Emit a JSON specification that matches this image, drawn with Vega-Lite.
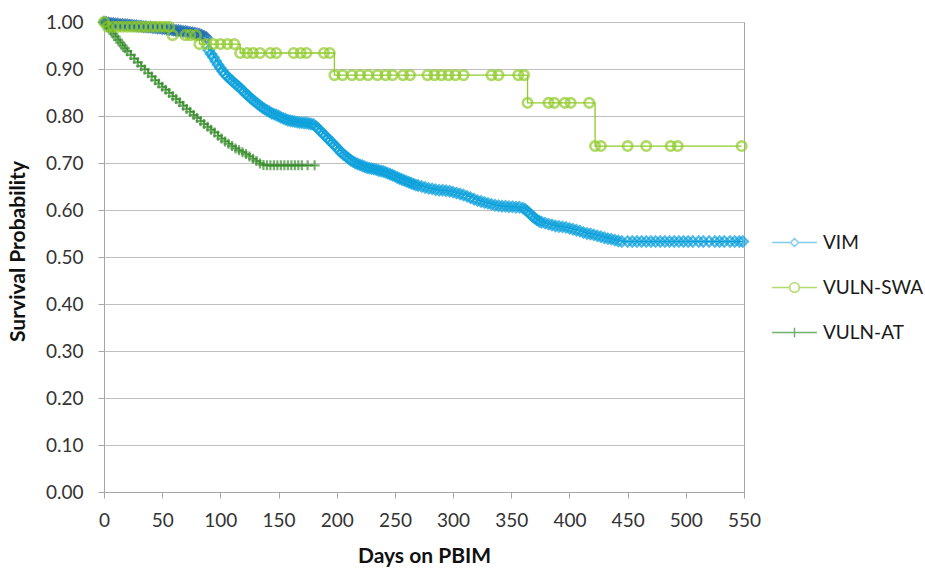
{
  "$schema": "https://vega.github.io/schema/vega-lite/v6.json",
  "width": 640,
  "height": 470,
  "autosize": {"type": "none"},
  "padding": {"left": 104, "top": 22, "right": 181, "bottom": 76},
  "background": "white",
  "config": {
    "font": "Lato",
    "view": {"stroke": "#A6A6A6", "strokeWidth": 1},
    "axis": {
      "labelFont": "Lato",
      "labelFontSize": 19,
      "labelColor": "#333333",
      "titleFont": "Lato",
      "titleFontSize": 21,
      "titleFontWeight": "bold",
      "titleColor": "#111111",
      "domainColor": "#A6A6A6",
      "tickColor": "#A6A6A6",
      "tickSize": 6,
      "gridColor": "#BFBFBF",
      "gridWidth": 1
    },
    "legend": {
      "orient": "none",
      "direction": "vertical",
      "legendX": 681,
      "legendY": 211,
      "labelFont": "Lato",
      "labelFontSize": 19,
      "labelColor": "#1A1A1A",
      "symbolSize": 64,
      "symbolStrokeWidth": 1.5,
      "labelOffset": 19,
      "rowPadding": 25
    }
  },
  "data": {
    "values": [
      {"series":"VIM","day":0,"p":1.000},{"series":"VIM","day":2,"p":0.999},{"series":"VIM","day":4,"p":0.998},{"series":"VIM","day":6,"p":0.997},{"series":"VIM","day":8,"p":0.997},{"series":"VIM","day":10,"p":0.996},{"series":"VIM","day":12,"p":0.996},{"series":"VIM","day":14,"p":0.995},{"series":"VIM","day":16,"p":0.995},{"series":"VIM","day":18,"p":0.994},{"series":"VIM","day":20,"p":0.994},{"series":"VIM","day":22,"p":0.993},{"series":"VIM","day":24,"p":0.993},{"series":"VIM","day":26,"p":0.992},{"series":"VIM","day":28,"p":0.992},{"series":"VIM","day":30,"p":0.991},{"series":"VIM","day":32,"p":0.991},{"series":"VIM","day":34,"p":0.990},{"series":"VIM","day":36,"p":0.990},{"series":"VIM","day":38,"p":0.989},{"series":"VIM","day":40,"p":0.989},{"series":"VIM","day":42,"p":0.988},{"series":"VIM","day":44,"p":0.988},{"series":"VIM","day":46,"p":0.987},{"series":"VIM","day":48,"p":0.987},{"series":"VIM","day":50,"p":0.986},{"series":"VIM","day":52,"p":0.986},{"series":"VIM","day":54,"p":0.985},{"series":"VIM","day":56,"p":0.984},{"series":"VIM","day":58,"p":0.984},{"series":"VIM","day":60,"p":0.983},{"series":"VIM","day":62,"p":0.982},{"series":"VIM","day":64,"p":0.982},{"series":"VIM","day":66,"p":0.981},{"series":"VIM","day":68,"p":0.980},{"series":"VIM","day":70,"p":0.980},{"series":"VIM","day":72,"p":0.979},{"series":"VIM","day":74,"p":0.978},{"series":"VIM","day":76,"p":0.977},{"series":"VIM","day":78,"p":0.976},{"series":"VIM","day":80,"p":0.975},{"series":"VIM","day":82,"p":0.974},{"series":"VIM","day":84,"p":0.972},{"series":"VIM","day":86,"p":0.970},{"series":"VIM","day":88,"p":0.967},
      {"series":"VIM","day":90,"p":0.940},{"series":"VIM","day":92,"p":0.932},{"series":"VIM","day":94,"p":0.925},{"series":"VIM","day":96,"p":0.917},{"series":"VIM","day":98,"p":0.909},{"series":"VIM","day":100,"p":0.902},{"series":"VIM","day":102,"p":0.895},{"series":"VIM","day":104,"p":0.889},{"series":"VIM","day":106,"p":0.884},{"series":"VIM","day":108,"p":0.879},{"series":"VIM","day":110,"p":0.875},{"series":"VIM","day":112,"p":0.870},{"series":"VIM","day":114,"p":0.866},{"series":"VIM","day":116,"p":0.862},{"series":"VIM","day":118,"p":0.857},{"series":"VIM","day":120,"p":0.852},{"series":"VIM","day":122,"p":0.847},{"series":"VIM","day":124,"p":0.843},{"series":"VIM","day":126,"p":0.838},{"series":"VIM","day":128,"p":0.834},{"series":"VIM","day":130,"p":0.830},{"series":"VIM","day":132,"p":0.826},{"series":"VIM","day":134,"p":0.822},{"series":"VIM","day":136,"p":0.818},{"series":"VIM","day":138,"p":0.815},{"series":"VIM","day":140,"p":0.812},{"series":"VIM","day":142,"p":0.809},{"series":"VIM","day":144,"p":0.806},{"series":"VIM","day":146,"p":0.804},{"series":"VIM","day":148,"p":0.802},{"series":"VIM","day":150,"p":0.800},{"series":"VIM","day":152,"p":0.797},{"series":"VIM","day":154,"p":0.795},{"series":"VIM","day":156,"p":0.793},{"series":"VIM","day":158,"p":0.791},{"series":"VIM","day":160,"p":0.790},{"series":"VIM","day":162,"p":0.789},{"series":"VIM","day":164,"p":0.788},{"series":"VIM","day":166,"p":0.787},{"series":"VIM","day":168,"p":0.786},{"series":"VIM","day":170,"p":0.786},{"series":"VIM","day":172,"p":0.785},{"series":"VIM","day":174,"p":0.785},{"series":"VIM","day":176,"p":0.784},{"series":"VIM","day":178,"p":0.783},{"series":"VIM","day":180,"p":0.782},{"series":"VIM","day":182,"p":0.778},{"series":"VIM","day":184,"p":0.773},{"series":"VIM","day":186,"p":0.768},{"series":"VIM","day":188,"p":0.763},{"series":"VIM","day":190,"p":0.758},{"series":"VIM","day":192,"p":0.753},{"series":"VIM","day":194,"p":0.748},{"series":"VIM","day":196,"p":0.743},{"series":"VIM","day":198,"p":0.738},{"series":"VIM","day":200,"p":0.733},{"series":"VIM","day":202,"p":0.727},{"series":"VIM","day":204,"p":0.722},{"series":"VIM","day":206,"p":0.718},{"series":"VIM","day":208,"p":0.714},{"series":"VIM","day":210,"p":0.710},{"series":"VIM","day":212,"p":0.706},{"series":"VIM","day":214,"p":0.703},{"series":"VIM","day":216,"p":0.700},{"series":"VIM","day":218,"p":0.698},{"series":"VIM","day":220,"p":0.696},{"series":"VIM","day":222,"p":0.694},{"series":"VIM","day":224,"p":0.692},{"series":"VIM","day":226,"p":0.690},{"series":"VIM","day":228,"p":0.689},{"series":"VIM","day":230,"p":0.688},{"series":"VIM","day":232,"p":0.687},{"series":"VIM","day":234,"p":0.686},{"series":"VIM","day":236,"p":0.684},{"series":"VIM","day":238,"p":0.683},{"series":"VIM","day":240,"p":0.682},{"series":"VIM","day":242,"p":0.680},{"series":"VIM","day":244,"p":0.678},{"series":"VIM","day":246,"p":0.676},{"series":"VIM","day":248,"p":0.674},{"series":"VIM","day":250,"p":0.672},{"series":"VIM","day":252,"p":0.669},{"series":"VIM","day":254,"p":0.667},{"series":"VIM","day":256,"p":0.665},{"series":"VIM","day":258,"p":0.663},{"series":"VIM","day":260,"p":0.661},{"series":"VIM","day":262,"p":0.659},{"series":"VIM","day":264,"p":0.657},{"series":"VIM","day":266,"p":0.655},{"series":"VIM","day":268,"p":0.653},{"series":"VIM","day":270,"p":0.652},{"series":"VIM","day":273,"p":0.650},{"series":"VIM","day":276,"p":0.648},{"series":"VIM","day":279,"p":0.646},{"series":"VIM","day":282,"p":0.645},{"series":"VIM","day":285,"p":0.643},{"series":"VIM","day":288,"p":0.642},{"series":"VIM","day":291,"p":0.642},{"series":"VIM","day":294,"p":0.641},{"series":"VIM","day":297,"p":0.640},{"series":"VIM","day":300,"p":0.638},{"series":"VIM","day":303,"p":0.636},{"series":"VIM","day":306,"p":0.634},{"series":"VIM","day":309,"p":0.632},{"series":"VIM","day":312,"p":0.629},{"series":"VIM","day":315,"p":0.626},{"series":"VIM","day":318,"p":0.623},{"series":"VIM","day":321,"p":0.620},{"series":"VIM","day":324,"p":0.618},{"series":"VIM","day":327,"p":0.616},{"series":"VIM","day":330,"p":0.614},{"series":"VIM","day":333,"p":0.612},{"series":"VIM","day":336,"p":0.610},{"series":"VIM","day":339,"p":0.609},{"series":"VIM","day":342,"p":0.608},{"series":"VIM","day":345,"p":0.608},{"series":"VIM","day":348,"p":0.607},{"series":"VIM","day":351,"p":0.607},{"series":"VIM","day":354,"p":0.606},{"series":"VIM","day":357,"p":0.606},{"series":"VIM","day":360,"p":0.604},{"series":"VIM","day":362,"p":0.601},{"series":"VIM","day":364,"p":0.597},{"series":"VIM","day":366,"p":0.592},{"series":"VIM","day":368,"p":0.587},{"series":"VIM","day":370,"p":0.583},{"series":"VIM","day":372,"p":0.579},{"series":"VIM","day":374,"p":0.576},{"series":"VIM","day":376,"p":0.574},{"series":"VIM","day":379,"p":0.572},{"series":"VIM","day":382,"p":0.570},{"series":"VIM","day":385,"p":0.568},{"series":"VIM","day":388,"p":0.566},{"series":"VIM","day":391,"p":0.565},{"series":"VIM","day":394,"p":0.564},{"series":"VIM","day":397,"p":0.563},{"series":"VIM","day":400,"p":0.561},{"series":"VIM","day":403,"p":0.559},{"series":"VIM","day":406,"p":0.557},{"series":"VIM","day":409,"p":0.555},{"series":"VIM","day":412,"p":0.552},{"series":"VIM","day":415,"p":0.550},{"series":"VIM","day":418,"p":0.549},{"series":"VIM","day":421,"p":0.547},{"series":"VIM","day":424,"p":0.545},{"series":"VIM","day":427,"p":0.543},{"series":"VIM","day":430,"p":0.541},{"series":"VIM","day":433,"p":0.539},{"series":"VIM","day":436,"p":0.538},{"series":"VIM","day":439,"p":0.536},{"series":"VIM","day":442,"p":0.534},{"series":"VIM","day":445,"p":0.533},{"series":"VIM","day":450,"p":0.533},{"series":"VIM","day":454,"p":0.533},{"series":"VIM","day":458,"p":0.533},{"series":"VIM","day":462,"p":0.533},{"series":"VIM","day":466,"p":0.533},{"series":"VIM","day":470,"p":0.533},{"series":"VIM","day":474,"p":0.533},{"series":"VIM","day":478,"p":0.533},{"series":"VIM","day":482,"p":0.533},{"series":"VIM","day":486,"p":0.533},{"series":"VIM","day":490,"p":0.533},{"series":"VIM","day":494,"p":0.533},{"series":"VIM","day":498,"p":0.533},{"series":"VIM","day":502,"p":0.533},{"series":"VIM","day":506,"p":0.533},{"series":"VIM","day":511,"p":0.533},{"series":"VIM","day":515,"p":0.533},{"series":"VIM","day":520,"p":0.533},{"series":"VIM","day":525,"p":0.533},{"series":"VIM","day":529,"p":0.533},{"series":"VIM","day":533,"p":0.533},{"series":"VIM","day":538,"p":0.533},{"series":"VIM","day":542,"p":0.533},{"series":"VIM","day":546,"p":0.533},{"series":"VIM","day":549,"p":0.533},
      {"series":"VULN-SWA","day":0,"p":1.000},{"series":"VULN-SWA","day":3,"p":0.990},{"series":"VULN-SWA","day":8,"p":0.990},{"series":"VULN-SWA","day":12,"p":0.990},{"series":"VULN-SWA","day":16,"p":0.990},{"series":"VULN-SWA","day":20,"p":0.990},{"series":"VULN-SWA","day":24,"p":0.990},{"series":"VULN-SWA","day":28,"p":0.990},{"series":"VULN-SWA","day":32,"p":0.990},{"series":"VULN-SWA","day":36,"p":0.990},{"series":"VULN-SWA","day":40,"p":0.990},{"series":"VULN-SWA","day":44,"p":0.990},{"series":"VULN-SWA","day":48,"p":0.990},{"series":"VULN-SWA","day":52,"p":0.990},{"series":"VULN-SWA","day":56,"p":0.990},
      {"series":"VULN-SWA","day":59,"p":0.972},{"series":"VULN-SWA","day":70,"p":0.972},{"series":"VULN-SWA","day":74,"p":0.972},{"series":"VULN-SWA","day":79,"p":0.972},
      {"series":"VULN-SWA","day":82,"p":0.953},{"series":"VULN-SWA","day":88,"p":0.953},{"series":"VULN-SWA","day":94,"p":0.953},{"series":"VULN-SWA","day":100,"p":0.953},{"series":"VULN-SWA","day":106,"p":0.953},{"series":"VULN-SWA","day":112,"p":0.953},
      {"series":"VULN-SWA","day":117,"p":0.934},{"series":"VULN-SWA","day":123,"p":0.934},{"series":"VULN-SWA","day":128,"p":0.934},{"series":"VULN-SWA","day":134,"p":0.934},{"series":"VULN-SWA","day":143,"p":0.934},{"series":"VULN-SWA","day":148,"p":0.934},{"series":"VULN-SWA","day":163,"p":0.934},{"series":"VULN-SWA","day":169,"p":0.934},{"series":"VULN-SWA","day":174,"p":0.934},{"series":"VULN-SWA","day":189,"p":0.934},{"series":"VULN-SWA","day":194,"p":0.934},
      {"series":"VULN-SWA","day":198,"p":0.887},{"series":"VULN-SWA","day":205,"p":0.887},{"series":"VULN-SWA","day":213,"p":0.887},{"series":"VULN-SWA","day":220,"p":0.887},{"series":"VULN-SWA","day":227,"p":0.887},{"series":"VULN-SWA","day":235,"p":0.887},{"series":"VULN-SWA","day":242,"p":0.887},{"series":"VULN-SWA","day":248,"p":0.887},{"series":"VULN-SWA","day":257,"p":0.887},{"series":"VULN-SWA","day":263,"p":0.887},{"series":"VULN-SWA","day":278,"p":0.887},{"series":"VULN-SWA","day":284,"p":0.887},{"series":"VULN-SWA","day":290,"p":0.887},{"series":"VULN-SWA","day":296,"p":0.887},{"series":"VULN-SWA","day":302,"p":0.887},{"series":"VULN-SWA","day":309,"p":0.887},{"series":"VULN-SWA","day":333,"p":0.887},{"series":"VULN-SWA","day":339,"p":0.887},{"series":"VULN-SWA","day":356,"p":0.887},{"series":"VULN-SWA","day":361,"p":0.887},
      {"series":"VULN-SWA","day":364,"p":0.828},{"series":"VULN-SWA","day":382,"p":0.828},{"series":"VULN-SWA","day":387,"p":0.828},{"series":"VULN-SWA","day":396,"p":0.828},{"series":"VULN-SWA","day":401,"p":0.828},{"series":"VULN-SWA","day":417,"p":0.828},
      {"series":"VULN-SWA","day":422,"p":0.736},{"series":"VULN-SWA","day":427,"p":0.736},{"series":"VULN-SWA","day":450,"p":0.736},{"series":"VULN-SWA","day":466,"p":0.736},{"series":"VULN-SWA","day":487,"p":0.736},{"series":"VULN-SWA","day":493,"p":0.736},{"series":"VULN-SWA","day":548,"p":0.736},
      {"series":"VULN-AT","day":0,"p":1.000},{"series":"VULN-AT","day":2,"p":0.993},{"series":"VULN-AT","day":4,"p":0.987},{"series":"VULN-AT","day":6,"p":0.981},{"series":"VULN-AT","day":8,"p":0.975},{"series":"VULN-AT","day":10,"p":0.969},{"series":"VULN-AT","day":12,"p":0.962},{"series":"VULN-AT","day":14,"p":0.956},{"series":"VULN-AT","day":16,"p":0.950},{"series":"VULN-AT","day":18,"p":0.944},{"series":"VULN-AT","day":20,"p":0.938},{"series":"VULN-AT","day":23,"p":0.930},{"series":"VULN-AT","day":26,"p":0.922},{"series":"VULN-AT","day":29,"p":0.914},{"series":"VULN-AT","day":32,"p":0.906},{"series":"VULN-AT","day":35,"p":0.899},{"series":"VULN-AT","day":38,"p":0.891},{"series":"VULN-AT","day":41,"p":0.884},{"series":"VULN-AT","day":44,"p":0.876},{"series":"VULN-AT","day":47,"p":0.869},{"series":"VULN-AT","day":50,"p":0.862},{"series":"VULN-AT","day":53,"p":0.856},{"series":"VULN-AT","day":56,"p":0.849},{"series":"VULN-AT","day":59,"p":0.842},{"series":"VULN-AT","day":62,"p":0.836},{"series":"VULN-AT","day":65,"p":0.829},{"series":"VULN-AT","day":68,"p":0.822},{"series":"VULN-AT","day":71,"p":0.815},{"series":"VULN-AT","day":74,"p":0.809},{"series":"VULN-AT","day":77,"p":0.802},{"series":"VULN-AT","day":80,"p":0.796},{"series":"VULN-AT","day":83,"p":0.789},{"series":"VULN-AT","day":86,"p":0.783},{"series":"VULN-AT","day":89,"p":0.777},{"series":"VULN-AT","day":92,"p":0.771},{"series":"VULN-AT","day":95,"p":0.765},{"series":"VULN-AT","day":98,"p":0.758},{"series":"VULN-AT","day":101,"p":0.752},{"series":"VULN-AT","day":104,"p":0.746},{"series":"VULN-AT","day":107,"p":0.741},{"series":"VULN-AT","day":110,"p":0.736},{"series":"VULN-AT","day":113,"p":0.731},{"series":"VULN-AT","day":116,"p":0.727},{"series":"VULN-AT","day":119,"p":0.723},{"series":"VULN-AT","day":122,"p":0.719},{"series":"VULN-AT","day":125,"p":0.714},{"series":"VULN-AT","day":128,"p":0.709},{"series":"VULN-AT","day":131,"p":0.704},{"series":"VULN-AT","day":134,"p":0.699},{"series":"VULN-AT","day":137,"p":0.696},{"series":"VULN-AT","day":140,"p":0.695},{"series":"VULN-AT","day":143,"p":0.695},{"series":"VULN-AT","day":146,"p":0.695},{"series":"VULN-AT","day":149,"p":0.695},{"series":"VULN-AT","day":152,"p":0.695},{"series":"VULN-AT","day":155,"p":0.695},{"series":"VULN-AT","day":158,"p":0.695},{"series":"VULN-AT","day":161,"p":0.695},{"series":"VULN-AT","day":164,"p":0.695},{"series":"VULN-AT","day":167,"p":0.695},{"series":"VULN-AT","day":170,"p":0.695},{"series":"VULN-AT","day":175,"p":0.695},{"series":"VULN-AT","day":181,"p":0.695}
    ]
  },
  "encoding": {
    "x": {
      "field": "day",
      "type": "quantitative",
      "scale": {"domain": [0, 550], "nice": false, "zero": false},
      "axis": {
        "title": "Days on PBIM",
        "values": [0, 50, 100, 150, 200, 250, 300, 350, 400, 450, 500, 550],
        "grid": false,
        "labelPadding": 13,
        "labelFlush": false,
        "titleY": 70,
        "titleBaseline": "alphabetic"
      }
    },
    "y": {
      "field": "p",
      "type": "quantitative",
      "scale": {"domain": [0, 1], "nice": false},
      "axis": {
        "title": "Survival Probability",
        "values": [0, 0.1, 0.2, 0.3, 0.4, 0.5, 0.6, 0.7, 0.8, 0.9, 1.0],
        "format": ".2f",
        "grid": true,
        "labelPadding": 15,
        "titleAngle": 270,
        "titleX": -80,
        "titleY": 229,
        "titleAlign": "center",
        "titleBaseline": "alphabetic"
      }
    }
  },
  "layer": [
    {
      "mark": {"type": "point", "filled": false, "strokeOpacity": 0, "strokeWidth": 1.5},
      "encoding": {
        "stroke": {
          "field": "series",
          "type": "nominal",
          "scale": {"domain": ["VIM", "VULN-SWA", "VULN-AT"], "range": ["#4DB6E6", "#8FCB2A", "#3A8E2E"]},
          "legend": {
            "title": null,
            "encode": {"symbols": {"update": {"strokeOpacity": {"value": 1}, "opacity": {"value": 1}}}}
          }
        },
        "shape": {
          "field": "series",
          "type": "nominal",
          "scale": {
            "domain": ["VIM", "VULN-SWA", "VULN-AT"],
            "range": [
              "M-5.6,0H-1M1,0H5.6M0,-1L1,0L0,1L-1,0Z",
              "M-5.6,0H-1.2M1.2,0H5.6M1.2,0A1.2,1.2,0,1,1,-1.2,0A1.2,1.2,0,1,1,1.2,0Z",
              "M-5.6,0H5.6M0,-1.2V1.2"
            ]
          },
          "legend": {
            "title": null,
            "encode": {"symbols": {"update": {"strokeOpacity": {"value": 1}, "opacity": {"value": 1}}}}
          }
        }
      }
    },
    {
      "mark": {"type": "line", "interpolate": "step-after", "strokeWidth": 1.3},
      "encoding": {
        "color": {
          "field": "series",
          "type": "nominal",
          "scale": {"domain": ["VIM", "VULN-SWA", "VULN-AT"], "range": ["#0AA0DC", "#8FCB2A", "#3A8E2E"]},
          "legend": null
        },
        "detail": {"field": "series"}
      }
    },
    {
      "transform": [{"filter": "datum.series === 'VIM'"}],
      "mark": {"type": "point", "shape": "diamond", "filled": false, "size": 100, "strokeWidth": 2.4},
      "encoding": {
        "color": {"condition": {"test": "datum.day < 89", "value": "#1F6CB0"}, "value": "#0AA0DC"}
      }
    },
    {
      "transform": [{"filter": "datum.series === 'VULN-AT'"}],
      "mark": {"type": "point", "shape": "M-1,0H1M0,-1V1", "filled": false, "size": 100, "strokeWidth": 2.2, "color": "#3A8E2E"}
    },
    {
      "transform": [{"filter": "datum.series === 'VULN-SWA'"}],
      "mark": {"type": "point", "shape": "circle", "filled": false, "size": 90, "strokeWidth": 2.6, "color": "#8FCB2A"}
    }
  ]
}
